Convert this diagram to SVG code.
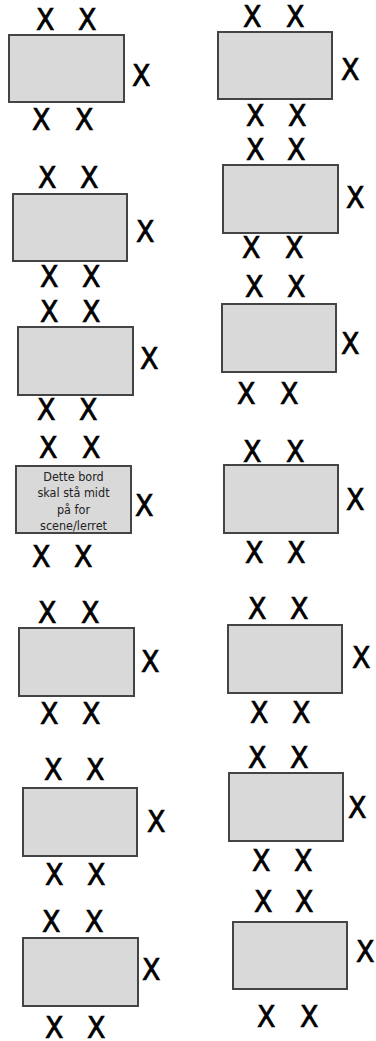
<svg xmlns="http://www.w3.org/2000/svg" width="376" height="1041" viewBox="0 0 376 1041">
<style>
.t{fill:#d9d9d9;stroke:#444;stroke-width:2}
.x{font-family:"DejaVu Sans Condensed","DejaVu Sans","Liberation Sans",sans-serif;font-stretch:condensed;font-size:30px;fill:#000;stroke:#000;stroke-width:0.7}
.n{font-family:"DejaVu Sans Condensed","DejaVu Sans","Liberation Sans",sans-serif;font-stretch:condensed;font-size:12.5px;fill:#222;text-anchor:middle}
</style>
<rect width="376" height="1041" fill="#fff"/>
<g id="L1"><rect class="t" x="9" y="35" width="115" height="67"/><text class="x" x="36" y="30">X</text><text class="x" x="78" y="30">X</text><text class="x" x="132" y="86">X</text><text class="x" x="32" y="130">X</text><text class="x" x="75" y="130">X</text></g>
<g id="L2"><rect class="t" x="13" y="194" width="114" height="67"/><text class="x" x="38" y="188">X</text><text class="x" x="80" y="188">X</text><text class="x" x="136" y="242">X</text><text class="x" x="40" y="287">X</text><text class="x" x="82" y="287">X</text></g>
<g id="L3"><rect class="t" x="18" y="327" width="115" height="68"/><text class="x" x="40" y="322">X</text><text class="x" x="82" y="322">X</text><text class="x" x="140" y="369">X</text><text class="x" x="37" y="420">X</text><text class="x" x="79" y="420">X</text></g>
<g id="L4"><rect class="t" x="16" y="466" width="115" height="67"/><text class="x" x="39" y="458">X</text><text class="x" x="82" y="458">X</text><text class="x" x="135" y="516">X</text><text class="x" x="32" y="567">X</text><text class="x" x="74" y="567">X</text>
<text class="n" x="73.5" y="481">Dette bord</text><text class="n" x="73.5" y="497.3">skal stå midt</text><text class="n" x="73.5" y="513.6">på for</text><text class="n" x="73.5" y="530">scene/lerret</text></g>
<g id="L5"><rect class="t" x="19" y="628" width="115" height="68"/><text class="x" x="38" y="623">X</text><text class="x" x="81" y="623">X</text><text class="x" x="141" y="672">X</text><text class="x" x="40" y="724">X</text><text class="x" x="82" y="724">X</text></g>
<g id="L6"><rect class="t" x="23" y="788" width="114" height="68"/><text class="x" x="44" y="780">X</text><text class="x" x="86" y="780">X</text><text class="x" x="147" y="832">X</text><text class="x" x="45" y="885">X</text><text class="x" x="87" y="885">X</text></g>
<g id="L7"><rect class="t" x="23" y="938" width="115" height="68"/><text class="x" x="42" y="932">X</text><text class="x" x="85" y="932">X</text><text class="x" x="142" y="980">X</text><text class="x" x="45" y="1038">X</text><text class="x" x="87" y="1038">X</text></g>
<g id="R1"><rect class="t" x="218" y="32" width="114" height="67"/><text class="x" x="243" y="27">X</text><text class="x" x="286" y="27">X</text><text class="x" x="341" y="80">X</text><text class="x" x="246" y="126">X</text><text class="x" x="288" y="126">X</text></g>
<g id="R2"><rect class="t" x="223" y="165" width="115" height="68"/><text class="x" x="246" y="160">X</text><text class="x" x="287" y="160">X</text><text class="x" x="346" y="208">X</text><text class="x" x="242" y="258">X</text><text class="x" x="285" y="258">X</text></g>
<g id="R3"><rect class="t" x="222" y="304" width="114" height="68"/><text class="x" x="245" y="297">X</text><text class="x" x="287" y="297">X</text><text class="x" x="341" y="354">X</text><text class="x" x="237" y="404">X</text><text class="x" x="280" y="404">X</text></g>
<g id="R4"><rect class="t" x="224" y="465" width="114" height="68"/><text class="x" x="243" y="462">X</text><text class="x" x="286" y="462">X</text><text class="x" x="346" y="510">X</text><text class="x" x="245" y="563">X</text><text class="x" x="287" y="563">X</text></g>
<g id="R5"><rect class="t" x="228" y="625" width="114" height="68"/><text class="x" x="248" y="619">X</text><text class="x" x="290" y="619">X</text><text class="x" x="352" y="668">X</text><text class="x" x="250" y="723">X</text><text class="x" x="292" y="723">X</text></g>
<g id="R6"><rect class="t" x="229" y="773" width="114" height="68"/><text class="x" x="248" y="768">X</text><text class="x" x="290" y="768">X</text><text class="x" x="348" y="818">X</text><text class="x" x="252" y="871">X</text><text class="x" x="294" y="871">X</text></g>
<g id="R7"><rect class="t" x="233" y="922" width="114" height="67"/><text class="x" x="254" y="912">X</text><text class="x" x="295" y="912">X</text><text class="x" x="356" y="962">X</text><text class="x" x="257" y="1027">X</text><text class="x" x="300" y="1027">X</text></g>
</svg>
